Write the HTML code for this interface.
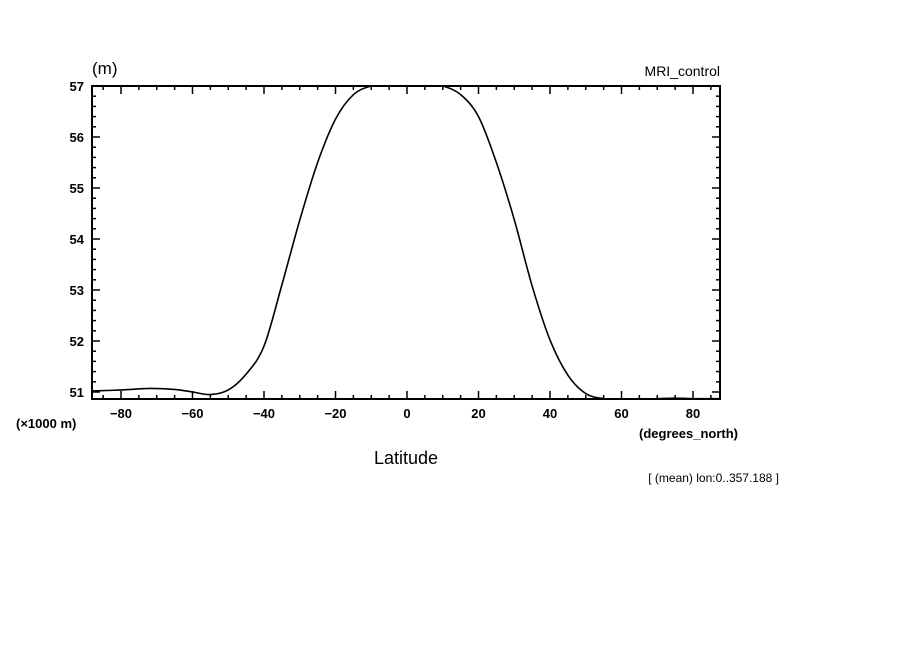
<!DOCTYPE html>
<html><head><meta charset="utf-8"><style>
body{margin:0;background:#fff;}
svg text{font-family:"Liberation Sans",sans-serif;fill:#000;}
</style></head><body>
<svg id="chart" width="904" height="654" xmlns="http://www.w3.org/2000/svg">
<defs><clipPath id="clip"><rect x="92" y="86" width="628" height="313"/></clipPath></defs>
<g id="ticks"></g>
<path id="line" fill="none" stroke="#000" stroke-width="1.6" clip-path="url(#clip)"/>
<rect x="92" y="86" width="628" height="313" fill="none" stroke="#000" stroke-width="2"/>
<text x="92" y="74" font-size="17">(m)</text>
<text x="720" y="76" font-size="14" text-anchor="end">MRI_control</text>
<text x="16" y="428" font-size="13" font-weight="bold">(×1000 m)</text>
<text x="738" y="438" font-size="13" font-weight="bold" text-anchor="end">(degrees_north)</text>
<text x="406" y="464" font-size="18" text-anchor="middle">Latitude</text>
<text x="779" y="482" font-size="12" text-anchor="end">[ (mean) lon:0..357.188 ]</text>
</svg>
<script>
const lats = [-88,-80,-72,-65,-60,-55,-50,-45,-40,-35,-30,-25,-20,-15,-10,-5,0,5,10,15,20,25,30,35,40,45,50,55,60,65,70,75,80,88];
const values = [51.02,51.04,51.07,51.05,51.0,50.95,51.04,51.35,51.9,53.1,54.37,55.5,56.35,56.83,57.0,57.05,57.05,57.05,57.0,56.83,56.4,55.5,54.38,53.08,52.02,51.33,50.97,50.87,50.86,50.86,50.87,50.88,50.87,50.87];
const xTicks = [-80,-60,-40,-20,0,20,40,60,80];
const yTicks = [51,52,53,54,55,56,57];
const xs = v => 407 + v * 3.575;
const ys = v => 392 - (v - 51) * 51;
const NS = "http://www.w3.org/2000/svg";
const svg = document.getElementById('chart');
const tg = document.getElementById('ticks');
function ln(x1,y1,x2,y2,name){const l=document.createElementNS(NS,'line');
l.setAttribute('x1',x1);l.setAttribute('y1',y1);l.setAttribute('x2',x2);l.setAttribute('y2',y2);
l.setAttribute('stroke','#000');l.setAttribute('stroke-width','1.5');


tg.appendChild(l);}
for(let v=-85;v<=85;v+=5){const x=xs(v);const L=(v%20===0)?8:4;ln(x,399,x,399-L,'x-tick');ln(x,86,x,86+L,'x-tick');}
for(let v=50.8;v<=57.001;v+=0.2){const y=ys(v);if(y<86||y>399)continue;const L=(Math.abs(v-Math.round(v))<0.01)?8:4;ln(92,y,92+L,y,'y-tick');ln(720,y,720-L,y,'y-tick');}
xTicks.forEach(v=>{const t=document.createElementNS(NS,'text');
t.setAttribute('x',xs(v));t.setAttribute('y',418);t.setAttribute('text-anchor','middle');t.setAttribute('font-size','13');t.setAttribute('font-weight','bold');
t.textContent=(v<0?'−':'')+Math.abs(v);


svg.appendChild(t);});
yTicks.forEach(v=>{const t=document.createElementNS(NS,'text');
t.setAttribute('x',84);t.setAttribute('y',ys(v)+5);t.setAttribute('text-anchor','end');t.setAttribute('font-size','13');t.setAttribute('font-weight','bold');
t.textContent=v;


svg.appendChild(t);});
const P = lats.map((a,i)=>[xs(a),ys(values[i])]);
let d='M'+P[0][0]+','+P[0][1];
for(let i=0;i<P.length-1;i++){const p0=P[Math.max(0,i-1)],p1=P[i],p2=P[i+1],p3=P[Math.min(P.length-1,i+2)];
d+=` C${p1[0]+(p2[0]-p0[0])/6},${p1[1]+(p2[1]-p0[1])/6} ${p2[0]-(p3[0]-p1[0])/6},${p2[1]-(p3[1]-p1[1])/6} ${p2[0]},${p2[1]}`;}
document.getElementById('line').setAttribute('d',d);
</script>
</body></html>
